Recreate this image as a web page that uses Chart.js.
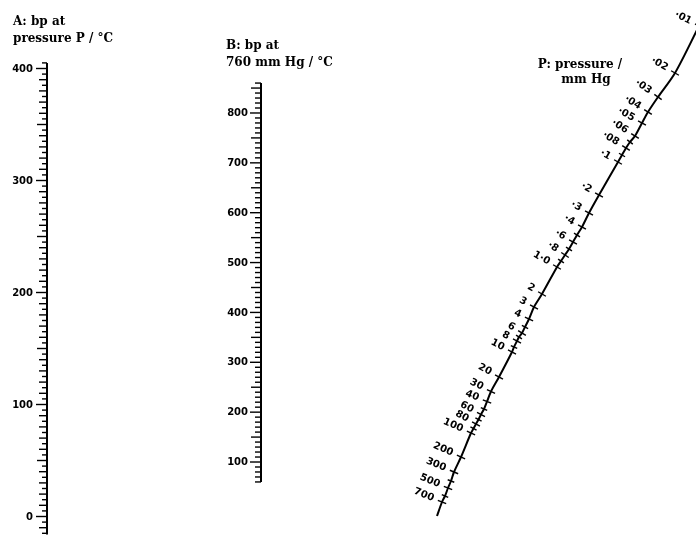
<!DOCTYPE html>
<html><head><meta charset="utf-8">
<script src="https://cdn.jsdelivr.net/npm/chart.js@4.4.1/dist/chart.umd.min.js"></script>
<style>html,body{margin:0;padding:0;background:#fff;}canvas{display:block;}</style>
</head><body>
<canvas id="c" width="696" height="537"></canvas>
<script>
// ---- Scale A: boiling point at pressure P (°C) ----
const aLabels = [0, 100, 200, 300, 400];
const aRange = [-16, 405];
const aStep = 5;
// ---- Scale B: boiling point at 760 mm Hg (°C) ----
const bLabels = [100, 200, 300, 400, 500, 600, 700, 800];
const bRange = [60, 860];
const bStep = 10;
// ---- Scale P: pressure (mm Hg), curved scale, positions in nomogram units ----
const pValues = [0.01,0.02,0.03,0.04,0.05,0.06,0.07,0.08,0.09,0.1,0.2,0.3,0.4,0.5,0.6,0.7,0.8,0.9,1,2,3,4,5,6,7,8,9,10,20,30,40,50,60,70,80,90,100,200,300,400,500,600,700,1000];
const pText = ['·01','·02','·03','·04','·05','·06','','·08','','·1','·2','·3','·4','','·6','','·8','','1·0','2','3','4','','6','','8','','10','20','30','40','','60','','80','','100','200','300','','500','','700',null];
const pX = [69.9,67.5,65.8,64.8,64.2,63.5,63.0,62.6,62.2,61.8,59.9,58.9,58.2,57.7,57.3,56.9,56.5,56.1,55.7,54.2,53.4,52.9,52.5,52.2,51.9,51.7,51.4,51.2,49.9,49.1,48.7,48.4,48.1,47.85,47.6,47.35,47.1,46.1,45.4,45.1,44.8,44.5,44.2,43.7];
const pY = [2.6,7.3,9.7,11.2,12.3,13.6,14.2,14.8,15.5,16.2,19.5,21.3,22.7,23.5,24.2,24.9,25.5,26.1,26.7,29.4,30.7,31.9,32.7,33.3,33.7,34.1,34.7,35.2,37.7,39.15,40.15,40.9,41.45,41.95,42.4,42.85,43.3,45.7,47.2,48.1,48.8,49.6,50.2,51.6];
// axis positions along the horizontal nomogram scale
const axisAX = 4.7, axisBX = 26.1;

const nomo = {
  id: 'nomo',
  afterDatasetsDraw(chart) {
    const c = chart.ctx, sx = chart.scales.x, sy = chart.scales.y;
    c.save();
    c.strokeStyle = '#000'; c.fillStyle = '#000';
    function linearAxis(scale, ax, range, step, labels, lens, gap) {
      const x = sx.getPixelForValue(ax);
      c.lineWidth = 2;
      c.beginPath();
      c.moveTo(x, scale.getPixelForValue(range[0]));
      c.lineTo(x, scale.getPixelForValue(range[1]));
      c.stroke();
      c.lineWidth = 1.4;
      for (let v = Math.ceil(range[0] / step) * step; v <= range[1]; v += step) {
        const y = scale.getPixelForValue(v);
        const len = v % 100 === 0 ? lens[0] : v % 50 === 0 ? lens[1] : v % 10 === 0 ? lens[2] : lens[3];
        c.beginPath(); c.moveTo(x, y); c.lineTo(x - len, y); c.stroke();
      }
      c.font = 'bold 10px "DejaVu Sans"';
      c.textAlign = 'right'; c.textBaseline = 'middle';
      labels.forEach(v => c.fillText(String(v), x - lens[0] - gap, scale.getPixelForValue(v) + 0.5));
    }
    linearAxis(chart.scales.yA, axisAX, aRange, aStep, aLabels, [11, 10, 8, 5], 3);
    linearAxis(chart.scales.yB, axisBX, bRange, bStep, bLabels, [11, 10, 6, 6], 2);

    // P scale ticks and labels
    const pts = pValues.map((v, i) => ({ x: sx.getPixelForValue(pX[i]), y: sy.getPixelForValue(pY[i]) }));
    c.lineWidth = 1.4;
    c.font = 'bold 10px "DejaVu Sans"';
    c.textAlign = 'right'; c.textBaseline = 'middle';
    pts.forEach((p, i) => {
      if (pText[i] === null) return;
      const a = pts[Math.max(0, i - 1)], b = pts[Math.min(pts.length - 1, i + 1)];
      let dx = b.x - a.x, dy = b.y - a.y; const L = Math.hypot(dx, dy); dx /= L; dy /= L;
      const nx = dy, ny = -dx; // normal pointing right-down
      const h = pText[i] ? 4.5 : 3.5;
      c.beginPath(); c.moveTo(p.x - nx * h, p.y - ny * h); c.lineTo(p.x + nx * h, p.y + ny * h); c.stroke();
      if (pText[i]) {
        c.save();
        c.translate(p.x - nx * 9, p.y - ny * 9);
        c.rotate(Math.atan2(ny, nx));
        c.fillText(pText[i], 0, 0);
        c.restore();
      }
    });

    // scale titles
    c.font = 'bold 12px "DejaVu Serif"';
    c.textAlign = 'left'; c.textBaseline = 'alphabetic';
    c.fillText('A: bp at', 13, 25);
    c.fillText('pressure P / °C', 13, 41.5);
    c.fillText('B: bp at', 226, 49);
    c.fillText('760 mm Hg / °C', 226, 65.5);
    c.textAlign = 'center';
    c.fillText('P: pressure /', 580, 68);
    c.fillText('mm Hg', 586, 83);
    c.restore();
  }
};

new Chart(document.getElementById('c'), {
  type: 'scatter',
  data: {
    datasets: [{
      type: 'line',
      data: pX.map((x, i) => ({ x: x, y: pY[i] })),
      borderColor: '#000', borderWidth: 2, pointRadius: 0, tension: 0.3, fill: false,
      xAxisID: 'x', yAxisID: 'y'
    }]
  },
  options: {
    responsive: false, animation: false, devicePixelRatio: 1,
    layout: { padding: 0 },
    plugins: { legend: { display: false }, tooltip: { enabled: false } },
    scales: {
      x: { type: 'linear', min: 0, max: 69.6, display: false },
      y: { type: 'linear', min: 0, max: 53.7, reverse: true, display: false },
      yA: { type: 'linear', min: -18.3, max: 461.16, display: false },
      yB: { type: 'linear', min: -50.4, max: 1026.6, display: false }
    }
  },
  plugins: [nomo]
});
</script>
</body></html>
